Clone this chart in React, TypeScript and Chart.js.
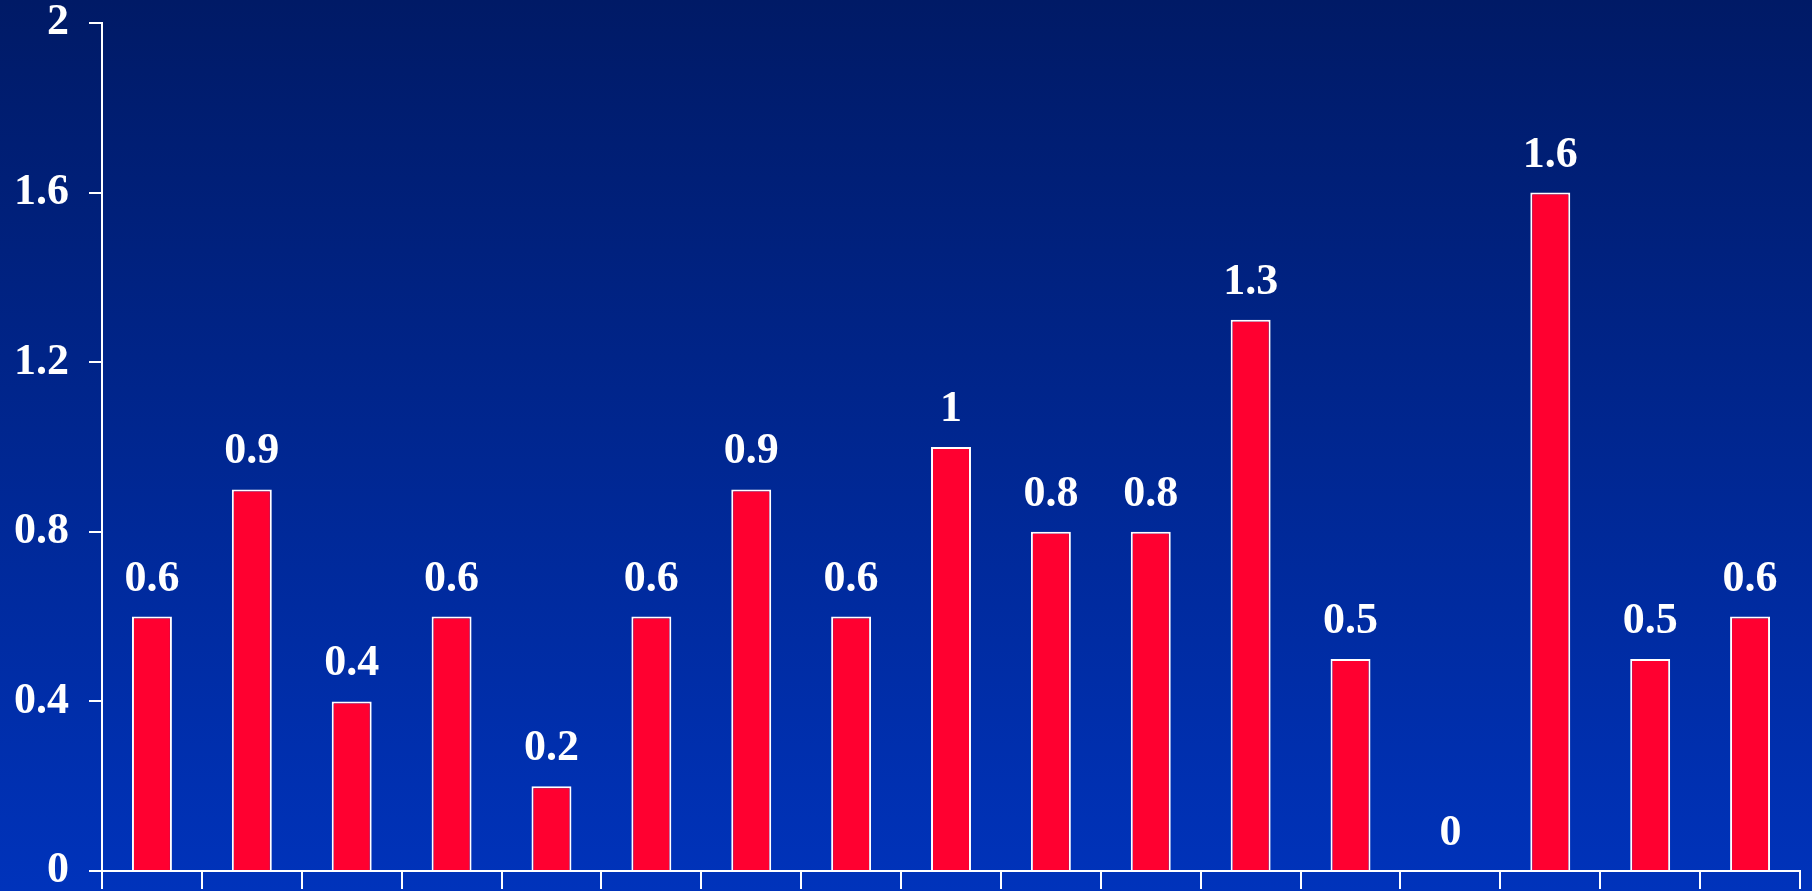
import React, { useEffect, useRef } from "react";
import { Chart, registerables } from "chart.js";

Chart.register(...registerables);

const categories = ["1","2","3","4","5","6","7","8","9","10","11","12","13","14","15","16","17"];
const values = [0.6, 0.9, 0.4, 0.6, 0.2, 0.6, 0.9, 0.6, 1, 0.8, 0.8, 1.3, 0.5, 0, 1.6, 0.5, 0.6];
const yTicks = [0, 0.4, 0.8, 1.2, 1.6, 2];

const FONT = "'Liberation Serif', 'Times New Roman', serif";

const valueLabels = {
  id: "valueLabels",
  afterDatasetsDraw(chart: any) {
    const ctx = chart.ctx;
    const meta = chart.getDatasetMeta(0);
    ctx.save();
    ctx.fillStyle = "#ffffff";
    ctx.font = `bold 44px ${FONT}`;
    ctx.textAlign = "center";
    ctx.textBaseline = "alphabetic";
    meta.data.forEach((bar: any, i: number) => {
      ctx.fillText(String(values[i]), bar.x, bar.y - 26);
    });
    ctx.restore();
  },
};

export default function App() {
  const ref = useRef<HTMLCanvasElement | null>(null);
  useEffect(() => {
    if (!ref.current) return;
    const chart = new Chart(ref.current, {
      type: "bar",
      data: {
        labels: categories,
        datasets: [
          {
            data: values,
            backgroundColor: "#ff0030",
            borderColor: "#ffffff",
            borderWidth: 2,
            barPercentage: 0.4,
            categoryPercentage: 1,
          },
        ],
      },
      options: {
        animation: false,
        responsive: false,
        maintainAspectRatio: false,
        layout: { padding: { top: 23, right: 12, left: 0, bottom: 0 } },
        plugins: { legend: { display: false }, tooltip: { enabled: false } },
        scales: {
          x: {
            offset: true,
            grid: {
              offset: true,
              drawOnChartArea: false,
              drawTicks: true,
              tickLength: 18,
              color: "#ffffff",
              tickColor: "#ffffff",
              lineWidth: 2,
            },
            border: { color: "#ffffff", width: 2 },
            ticks: { display: false },
            afterFit: (s: any) => {
              s.height = 20;
              s.paddingLeft = 0;
              s.paddingRight = 0;
            },
          },
          y: {
            min: 0,
            max: 2,
            afterBuildTicks: (s: any) => {
              s.ticks = yTicks.map((v) => ({ value: v }));
            },
            grid: {
              drawOnChartArea: false,
              drawTicks: true,
              tickLength: 13,
              color: "#ffffff",
              tickColor: "#ffffff",
              lineWidth: 2,
            },
            border: { color: "#ffffff", width: 2 },
            ticks: {
              color: "#ffffff",
              padding: 20,
              font: { family: FONT, size: 44, weight: "bold" },
              callback: (v: any) => String(Math.round(Number(v) * 10) / 10),
            },
            afterFit: (s: any) => {
              s.width = 102;
              s.paddingTop = 0;
              s.paddingBottom = 0;
            },
          },
        },
      },
      plugins: [valueLabels],
    });
    return () => chart.destroy();
  }, []);

  return (
    <div
      style={{
        position: "absolute",
        left: 0,
        top: 0,
        width: 1812,
        height: 891,
        background: "linear-gradient(to bottom, #001a66 0%, #0033bb 100%)",
      }}
    >
      <canvas ref={ref} width={1812} height={891} style={{ display: "block", width: 1812, height: 891 }} />
    </div>
  );
}
